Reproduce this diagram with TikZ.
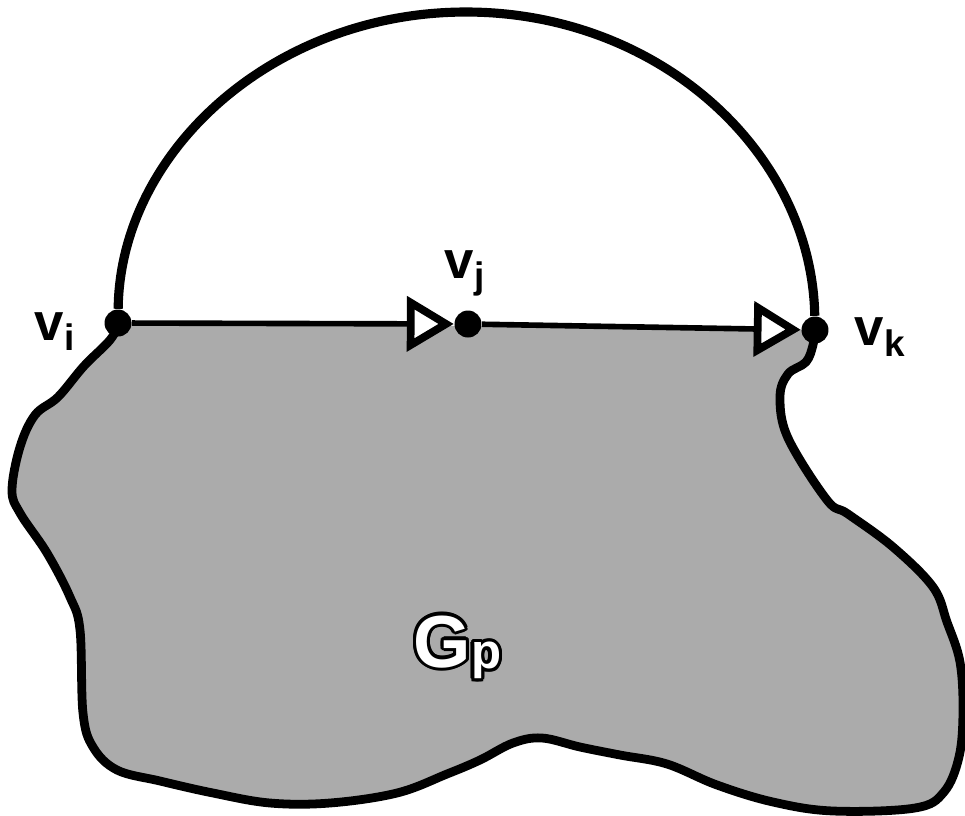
\documentclass[tikz,border=0pt]{standalone}
\usepackage{fontspec}
\setmainfont{Liberation Sans}
\usepackage{contour}
\contourlength{0.9pt}
\usetikzlibrary{arrows.meta}

\begin{document}
\begin{tikzpicture}[
  x=0.1mm, y=-0.1mm,
  vertex/.style={circle, fill=black, inner sep=0pt, minimum size=2.7mm},
  edge/.style={line width=1.6pt, -{Triangle[open, fill=white, length=4.7mm, width=5.4mm, line width=2.2pt]}},
  bigarc/.style={line width=2.6pt},
  blobfill/.style={fill=black!33},
  blobline/.style={line width=2.5pt, line join=round},
  vlabel/.style={anchor=base west, font=\fontsize{15}{15}\selectfont\bfseries, inner sep=0pt},
]
\useasboundingbox (0,0) rectangle (965,815);

% === the graph G_P ===
\fill[blobfill] (120,322) -- (815,330) -- plot[smooth, tension=0.6] coordinates {
  (815,330) (813,345) (806,362) (788,374) (780,397) (788,438) (827,500) (848,514)
  (893,547) (933,587) (947,622) (960,662) (963,712) (959,757) (944,792) (915,808)
  (833,811) (773,802) (717,785) (667,764) (620,755) (580,747) (542,738) (513,743)
  (480,760) (447,774) (397,793) (330,803) (270,803) (213,793) (160,781) (117,770)
  (93,747) (83,713) (80,630) (70,597) (47,553) (20,513) (12,490) (20,447)
  (35,415) (58,397) (84,366) (110,340) (120,322)} -- cycle;
\draw[blobline] plot[smooth, tension=0.6] coordinates {
  (815,330) (813,345) (806,362) (788,374) (780,397) (788,438) (827,500) (848,514)
  (893,547) (933,587) (947,622) (960,662) (963,712) (959,757) (944,792) (915,808)
  (833,811) (773,802) (717,785) (667,764) (620,755) (580,747) (542,738) (513,743)
  (480,760) (447,774) (397,793) (330,803) (270,803) (213,793) (160,781) (117,770)
  (93,747) (83,713) (80,630) (70,597) (47,553) (20,513) (12,490) (20,447)
  (35,415) (58,397) (84,366) (110,340) (120,322)};
\node[anchor=base west, inner sep=0pt, font=\fontsize{21}{21}\selectfont\bfseries] (gp) at (413,667)
  {\contour{black}{\textcolor{white}{G\raisebox{-0.5pt}{\fontsize{14}{14}\selectfont p}}}};

% === vertices ===
\node[vertex] (vi) at (118,323) {};
\node[vertex] (vj) at (468,324) {};
\node[vertex] (vk) at (815,330) {};
\coordinate (top) at (466,12);

\node[vlabel] (lvi) at (34,340) {v\raisebox{-3pt}{\fontsize{10.5}{10.5}\selectfont i}};
\node[vlabel] (lvj) at (444,278) {v\raisebox{-3pt}{\fontsize{10.5}{10.5}\selectfont j}};
\node[vlabel] (lvk) at (854,345) {v\raisebox{-3.4pt}{\fontsize{10.5}{10.5}\selectfont k}};

% === edges ===
\draw[edge] (vi) -- (vj);
\draw[edge] (vj) -- (vk);
\draw[bigarc] (vi) .. controls +(2,-172) and +(-192,0) .. (top)
  .. controls +(194,0) and +(-3,-177) .. (vk);

\end{tikzpicture}
\end{document}
